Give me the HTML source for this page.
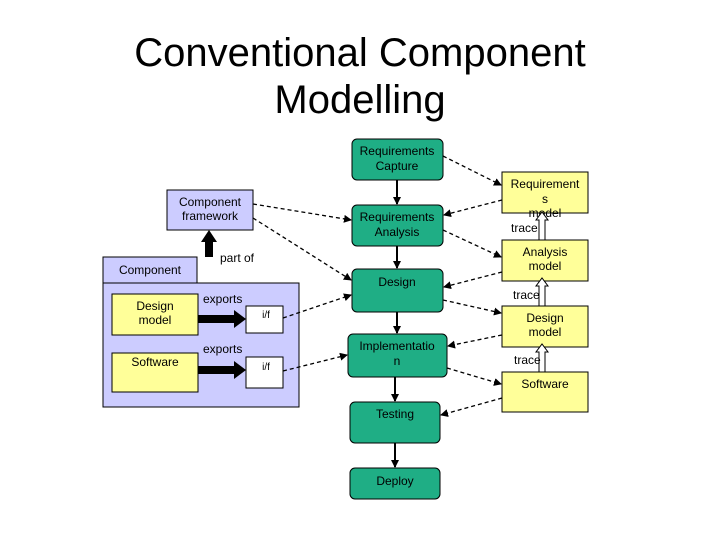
<!DOCTYPE html>
<html><head><meta charset="utf-8"><style>
body{margin:0;background:#fff;width:720px;height:540px;overflow:hidden;font-family:"Liberation Sans",sans-serif}
</style></head><body>
<svg width="720" height="540" xmlns="http://www.w3.org/2000/svg" font-family="Liberation Sans, sans-serif">
<defs>
<marker id="a" markerWidth="8" markerHeight="8" refX="7" refY="4" orient="auto" markerUnits="userSpaceOnUse"><path d="M0,0 L8,4 L0,8 z" fill="#000"/></marker>
</defs>
<text x="360" y="66" font-size="40" text-anchor="middle">Conventional Component</text>
<text x="360" y="113" font-size="40" text-anchor="middle">Modelling</text>

<!-- component -->
<rect x="103" y="257" width="94" height="26" fill="#ccccff" stroke="#000"/>
<text x="150" y="274" font-size="12" text-anchor="middle">Component</text>
<rect x="103" y="283" width="196" height="124" fill="#ccccff" stroke="#000"/>
<rect x="167" y="190" width="86" height="40" fill="#ccccff" stroke="#000"/>
<text x="210" y="206" font-size="12" text-anchor="middle">Component</text>
<text x="210" y="220" font-size="12" text-anchor="middle">framework</text>
<rect x="112" y="294" width="86" height="41" fill="#ffff99" stroke="#000"/>
<text x="155" y="310" font-size="12" text-anchor="middle">Design</text>
<text x="155" y="324" font-size="12" text-anchor="middle">model</text>
<rect x="112" y="353" width="86" height="39" fill="#ffff99" stroke="#000"/>
<text x="155" y="366" font-size="12" text-anchor="middle">Software</text>
<rect x="246" y="306" width="37" height="27" fill="#fff" stroke="#000"/>
<text x="266" y="318" font-size="10" text-anchor="middle">i/f</text>
<rect x="246" y="357" width="37" height="31" fill="#fff" stroke="#000"/>
<text x="266" y="370" font-size="10" text-anchor="middle">i/f</text>
<path d="M198,315 h36 v-5 l12,9 l-12,9 v-5 h-36z" fill="#000"/>
<path d="M198,366 h36 v-5 l12,9 l-12,9 v-5 h-36z" fill="#000"/>
<path d="M205,257 v-15 h-4 l8,-12 l8,12 h-4 v15z" fill="#000"/>
<text x="203" y="303" font-size="12">exports</text>
<text x="203" y="353" font-size="12">exports</text>
<text x="220" y="262" font-size="12">part of</text>

<!-- green -->
<g fill="#1fae85" stroke="#000" stroke-width="1">
<rect x="352" y="139" width="91" height="41" rx="5"/>
<rect x="352" y="205" width="91" height="41" rx="5"/>
<rect x="352" y="269" width="91" height="43" rx="5"/>
<rect x="348" y="334" width="99" height="43" rx="5"/>
<rect x="350" y="402" width="90" height="41" rx="5"/>
<rect x="350" y="468" width="90" height="31" rx="5"/>
</g>
<g font-size="12" text-anchor="middle">
<text x="397" y="155">Requirements</text><text x="397" y="170">Capture</text>
<text x="397" y="221">Requirements</text><text x="397" y="236">Analysis</text>
<text x="397" y="286">Design</text>
<text x="397" y="350">Implementatio</text><text x="397" y="365">n</text>
<text x="395" y="418">Testing</text>
<text x="395" y="485">Deploy</text>
</g>
<g stroke="#000" stroke-width="2" marker-end="url(#a)">
<line x1="397" y1="180" x2="397" y2="204"/>
<line x1="397" y1="246" x2="397" y2="268"/>
<line x1="397" y1="312" x2="397" y2="333"/>
<line x1="395" y1="377" x2="395" y2="401"/>
<line x1="395" y1="443" x2="395" y2="467"/>
</g>

<!-- yellow -->
<g fill="#ffff99" stroke="#000">
<rect x="502" y="172" width="86" height="41"/>
<rect x="502" y="240" width="86" height="41"/>
<rect x="502" y="306" width="86" height="41"/>
<rect x="502" y="372" width="86" height="40"/>
</g>
<g font-size="12" text-anchor="middle">
<text x="545" y="188">Requirement</text><text x="545" y="203">s</text><text x="545" y="217">model</text>
<text x="545" y="256">Analysis</text><text x="545" y="270">model</text>
<text x="545" y="322">Design</text><text x="545" y="336">model</text>
<text x="545" y="388">Software</text>
</g>
<g fill="#fff" stroke="#000">
<path d="M539,240 v-20 h-3 l6,-8 l6,8 h-3 v20z"/>
<path d="M539,306 v-20 h-3 l6,-8 l6,8 h-3 v20z"/>
<path d="M539,372 v-20 h-3 l6,-8 l6,8 h-3 v20z"/>
</g>
<g font-size="12">
<text x="511" y="232">trace</text>
<text x="513" y="299">trace</text>
<text x="514" y="364">trace</text>
</g>

<!-- dashed -->
<g stroke="#000" stroke-width="1.3" stroke-dasharray="4,3" marker-end="url(#a)" fill="none">
<line x1="253" y1="204" x2="351" y2="220"/>
<line x1="253" y1="218" x2="351" y2="280"/>
<line x1="283" y1="318" x2="351" y2="295"/>
<line x1="283" y1="371" x2="347" y2="355"/>
<line x1="443" y1="156" x2="501" y2="185"/>
<line x1="502" y1="200" x2="444" y2="215"/>
<line x1="443" y1="230" x2="501" y2="257"/>
<line x1="502" y1="272" x2="444" y2="287"/>
<line x1="443" y1="300" x2="501" y2="313"/>
<line x1="502" y1="335" x2="448" y2="346"/>
<line x1="447" y1="368" x2="501" y2="384"/>
<line x1="502" y1="398" x2="441" y2="415"/>
</g>
</svg>
</body></html>
